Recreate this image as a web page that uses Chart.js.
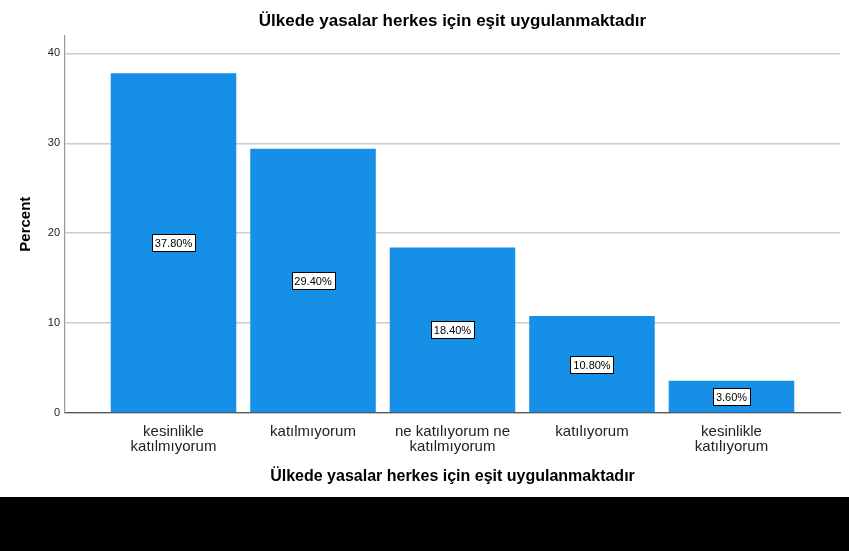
<!DOCTYPE html>
<html>
<head>
<meta charset="utf-8">
<script src="https://cdn.jsdelivr.net/npm/chart.js@4/dist/chart.umd.min.js"></script>
<style>
  html, body { margin: 0; padding: 0; background: #000; }
  #wrap { width: 849px; height: 497px; background: #fff; }
</style>
</head>
<body>
<div id="wrap"><canvas id="chart" width="849" height="497"></canvas></div>
<script>
const categories = [
  ["kesinlikle", "katılmıyorum"],
  ["katılmıyorum"],
  ["ne katılıyorum ne", "katılmıyorum"],
  ["katılıyorum"],
  ["kesinlikle", "katılıyorum"]
];
const percents = [37.8, 29.4, 18.4, 10.8, 3.6];
const yTicks = [0, 10, 20, 30, 40];
const titleText = "Ülkede yasalar herkes için eşit uygulanmaktadır";

// boxed percent labels in the middle of each bar
const barLabels = {
  id: 'barLabels',
  afterDatasetsDraw(chart) {
    const ctx = chart.ctx;
    const meta = chart.getDatasetMeta(0);
    ctx.save();
    ctx.font = '11px "Liberation Sans", Arial, sans-serif';
    ctx.textAlign = 'center';
    ctx.textBaseline = 'middle';
    meta.data.forEach((bar, i) => {
      const txt = percents[i].toFixed(2) + '%';
      const w = Math.round(ctx.measureText(txt).width + 6);
      const h = 17;
      const left = Math.round(bar.x - w / 2) + 0.5;
      const top = Math.round((bar.y + bar.base) / 2 - h / 2) + 0.5;
      ctx.fillStyle = '#fff';
      ctx.fillRect(left, top, w, h);
      ctx.strokeStyle = '#000';
      ctx.lineWidth = 1;
      ctx.strokeRect(left, top, w, h);
      ctx.fillStyle = '#000';
      ctx.fillText(txt, bar.x, top + h / 2 + 0.5);
    });
    ctx.restore();
  }
};

new Chart(document.getElementById('chart'), {
  type: 'bar',
  data: {
    datasets: [{
      data: percents.map((v, i) => ({ x: i, y: v })),
      backgroundColor: '#1690e6',
      borderWidth: 0,
      barPercentage: 0.9,
      categoryPercentage: 1
    }]
  },
  options: {
    responsive: false,
    animation: false,
    layout: { padding: { left: 0, right: 9, top: 0, bottom: 0 } },
    plugins: {
      legend: { display: false },
      tooltip: { enabled: false },
      title: {
        display: true,
        fullSize: false,
        text: titleText,
        color: '#000',
        font: { family: '"Liberation Sans", Arial, sans-serif', size: 17, weight: 'bold' },
        padding: { top: 11, bottom: 4 }
      }
    },
    scales: {
      x: {
        type: 'linear',
        offset: false,
        min: -0.778,
        max: 4.778,
        afterBuildTicks(scale) {
          scale.ticks = categories.map((c, i) => ({ value: i }));
        },
        afterFit(scale) { scale.height = 84; },
        grid: { display: false, drawTicks: false },
        border: { color: '#555', width: 1.2 },
        ticks: {
          autoSkip: false,
          maxRotation: 0,
          padding: 11,
          color: '#222',
          font: { family: '"Liberation Sans", Arial, sans-serif', size: 15, lineHeight: 1.0 },
          callback: (v) => categories[v]
        },
        title: {
          display: true,
          text: titleText,
          color: '#000',
          font: { family: '"Liberation Sans", Arial, sans-serif', size: 16, weight: 'bold' },
          padding: { top: 0, bottom: 11 }
        }
      },
      y: {
        min: 0,
        max: 42,
        afterBuildTicks(scale) {
          scale.ticks = yTicks.map(v => ({ value: v }));
        },
        afterFit(scale) { scale.width = 65; },
        grid: { color: '#cccccc', lineWidth: 1.5, drawTicks: false },
        border: { color: '#999', width: 1.2 },
        ticks: {
          padding: 5,
          color: '#222',
          font: { family: '"Liberation Sans", Arial, sans-serif', size: 11 }
        },
        title: {
          display: true,
          text: 'Percent',
          color: '#000',
          font: { family: '"Liberation Sans", Arial, sans-serif', size: 15, weight: 'bold' },
          padding: { top: 17, bottom: 0 }
        }
      }
    }
  },
  plugins: [barLabels]
});
</script>
</body>
</html>
